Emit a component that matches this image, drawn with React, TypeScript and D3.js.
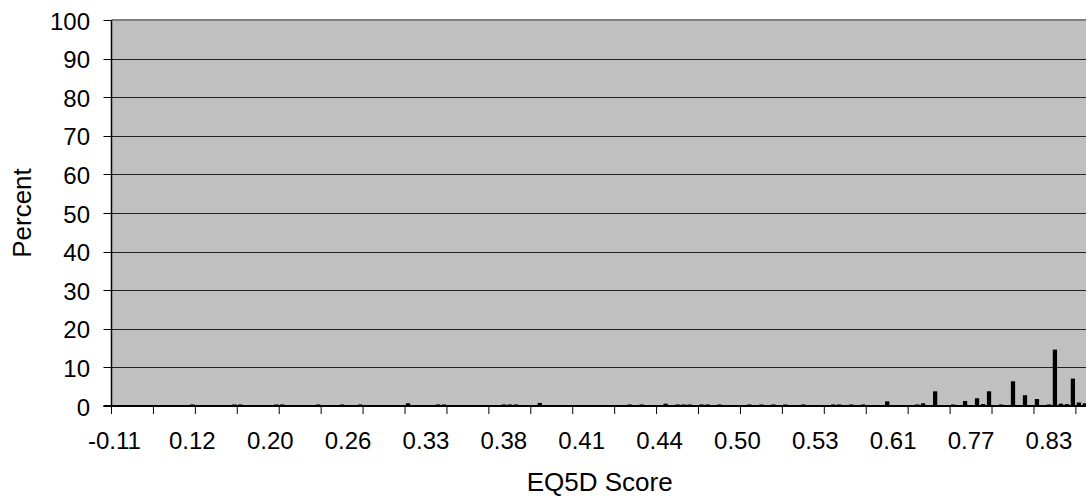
import React from "react";
import * as d3 from "d3";

// ---- data ----
const CATEGORY_COUNT = 163; // visible score categories
const barCategory = [
  13, 20, 21, 27, 28, 34, 38, 41, 49, 54, 55, 65, 66, 67, 71,
  86, 88, 92, 94, 95, 96, 98, 99, 101, 106, 108, 110, 112, 115,
  120, 121, 123, 125, 129, 134, 135, 137, 140, 142, 144, 145, 146,
  148, 150, 152, 154, 156, 157, 158, 159, 160, 161, 162,
];
const barPercent = [
  0.4, 0.4, 0.4, 0.4, 0.4, 0.4, 0.4, 0.4, 0.7, 0.4, 0.4, 0.4, 0.4, 0.4, 0.8,
  0.4, 0.4, 0.6, 0.4, 0.4, 0.4, 0.4, 0.4, 0.4, 0.4, 0.4, 0.4, 0.4, 0.4,
  0.4, 0.4, 0.4, 0.4, 1.2, 0.4, 0.7, 3.8, 0.4, 1.3, 2.0, 0.5, 3.8,
  0.4, 6.4, 2.8, 1.8, 0.4, 14.6, 0.6, 0.5, 7.1, 0.9, 0.7,
];
const xTickLabels = [
  "-0.11", "0.12", "0.20", "0.26", "0.33", "0.38", "0.41",
  "0.44", "0.50", "0.53", "0.61", "0.77", "0.83",
];
const xLabelCategory = [0, 13, 26, 39, 52, 65, 78, 91, 104, 117, 130, 143, 156];
const xTickMarkEvery = 7;
const yTicks = [0, 10, 20, 30, 40, 50, 60, 70, 80, 90, 100];

const W = 1086;
const H = 499;
const FONT = "'Liberation Sans', Arial, sans-serif";

export default function App() {
  const left = 111.5;
  const step = 5.99;
  const top = 20;
  const bottom = 406;
  const right = left + CATEGORY_COUNT * step;

  const x = d3
    .scaleBand<number>()
    .domain(d3.range(CATEGORY_COUNT))
    .range([left, right])
    .paddingInner(0.285)
    .paddingOuter(0.1425);
  const y = d3.scaleLinear().domain([0, 100]).range([bottom, top]);

  const bars = barCategory.map((c, i) => ({ c, v: barPercent[i] }));
  const tickMarks = d3
    .range(0, CATEGORY_COUNT + 1, xTickMarkEvery)
    .map((k) => left + k * x.step());

  return (
    <div style={{ position: "fixed", left: 0, top: 0, width: W, height: H, overflow: "hidden", background: "#fff" }}>
      <svg width={W} height={H} style={{ display: "block" }} fontFamily={FONT}>
        <rect x={left} y={top} width={right - left} height={bottom - top} fill="#C0C0C0" />
        {/* gridlines */}
        {yTicks.slice(1, -1).map((t) => (
          <line key={t} x1={left} x2={right} y1={Math.round(y(t)) + 0.5} y2={Math.round(y(t)) + 0.5} stroke="#222" strokeWidth={1} />
        ))}
        {/* top border */}
        <line x1={left} x2={right} y1={top} y2={top} stroke="#808080" strokeWidth={2} />
        {/* bars */}
        {bars.map((b) => (
          <rect key={b.c} x={x(b.c)} y={y(b.v)} width={x.bandwidth()} height={bottom - y(b.v)} fill="#000" />
        ))}
        {/* y axis */}
        <line x1={left} x2={left} y1={top} y2={bottom} stroke="#000" strokeWidth={1.5} />
        {yTicks.map((t) => (
          <g key={t}>
            <line x1={left - 8} x2={left} y1={Math.round(y(t)) + 0.5} y2={Math.round(y(t)) + 0.5} stroke="#000" strokeWidth={1} />
            <text x={90} y={y(t) + 9.5} textAnchor="end" fontSize={24} fill="#000">{t}</text>
          </g>
        ))}
        {/* x axis */}
        <line x1={left - 8} x2={right} y1={bottom} y2={bottom} stroke="#000" strokeWidth={1.8} />
        {tickMarks.map((tx, i) => (
          <line key={i} x1={tx} x2={tx} y1={bottom} y2={bottom + 8} stroke="#000" strokeWidth={1} />
        ))}
        {xTickLabels.map((lab, i) => (
          <text key={lab} x={(x(xLabelCategory[i]) as number) + x.bandwidth() / 2} y={449} textAnchor="middle" fontSize={24} fill="#000">
            {lab}
          </text>
        ))}
        {/* axis titles */}
        <text x={(left + right) / 2} y={491} textAnchor="middle" fontSize={26} fill="#000">EQ5D Score</text>
        <text transform={`translate(31,${(top + bottom) / 2}) rotate(-90)`} textAnchor="middle" fontSize={26} fill="#000">Percent</text>
      </svg>
    </div>
  );
}
